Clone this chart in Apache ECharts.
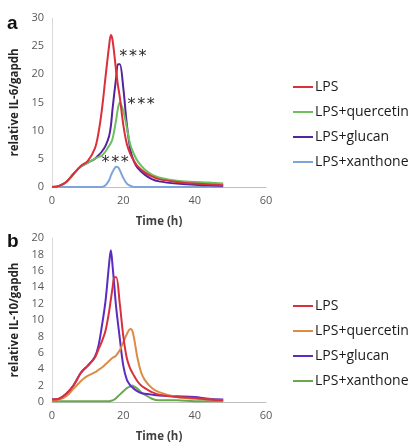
<!DOCTYPE html>
<html><head><meta charset="utf-8">
<script src="https://cdn.jsdelivr.net/npm/echarts@6/dist/echarts.min.js"></script>
<style>html,body{margin:0;padding:0;background:#fff}#c{width:414px;height:444px}</style>
</head><body><div id="c"></div>
<script>
// ---- Data ----
const seriesNames = ['LPS', 'LPS+quercetin', 'LPS+glucan', 'LPS+xanthone'];
const xTicks = [0, 20, 40, 60];

// Panel a: IL-6
const timeA = [0,2,4,6,8,10,12,13,14,15,16,16.5,17,18,18.5,19,20,21,22,23,24,26,28,30,35,40,44,48];
const il6_LPS       = [0,0.2,0.9,2.3,3.7,4.6,6.8,9.5,13.8,19.5,25,27,26,20.5,18,16,11,7.6,5.8,4.6,3.7,2.6,1.9,1.4,0.9,0.6,0.5,0.3];
const il6_quercetin = [0,0.2,0.9,2.3,3.6,4.3,5,5.3,5.6,6.3,7.3,7.8,8.6,12,14,15,13.5,10.5,7.4,5.8,4.6,3.1,2.2,1.7,1.1,0.9,0.8,0.6];
const il6_glucan    = [0,0.2,0.9,2.3,3.6,4.3,5,5.6,6.3,7.3,9,10.8,14,19.5,21.8,21.8,17.5,11,6.5,4.5,3.4,2.2,1.4,1,0.6,0.4,0.3,0.2];
const il6_xanthone  = [0,0,0,0,0,0,0,0,0,0.3,1.2,2,2.7,3.6,3.5,3,1.6,0.6,0.2,0,0,0,0,0,0,0,0,0];
const il6_stars = [[22.7, 23.8], [25, 15.3], [17.7, 5]];

// Panel b: IL-10
const timeB = [0,2,4,6,8,9,10,12,13,14,15,16,16.5,17,17.5,18,19,20,21,22,22.5,23,24,25,26,28,30,35,40,44,48];
const il10_LPS       = [0.3,0.4,1,2,3.5,4,4.4,5.4,6.4,7.4,8.7,11,12.5,14,15.2,15.2,12,8,5.3,4,3.6,3.2,2.5,2,1.7,1.2,0.9,0.6,0.5,0.3,0.2];
const il10_quercetin = [0.2,0.3,0.7,1.6,2.5,2.9,3.2,3.6,3.9,4.2,4.6,5,5.2,5.4,5.5,5.7,6.3,7.3,8.3,8.9,8.7,7.8,5.3,3.6,2.7,1.7,1.2,0.6,0.4,0.3,0.2];
const il10_glucan    = [0.3,0.4,1,2,3.5,4,4.4,5.5,6.8,9.3,12.3,16.8,18.5,16.5,14,11.5,7.8,4.4,2.7,2,1.8,1.6,1.3,1.1,1,0.9,0.8,0.7,0.6,0.4,0.3];
const il10_xanthone  = [0.1,0.1,0.1,0.1,0.1,0.1,0.1,0.1,0.1,0.1,0.1,0.1,0.15,0.2,0.3,0.5,0.9,1.3,1.7,1.9,2,1.9,1.6,1.2,0.9,0.4,0.2,0.2,0.1,0.1,0.1];

// ---- Styles ----
const colorsA = ['#dc2f3a', '#6cc05e', '#55249c', '#7ea5da'];
const colorsB = ['#d8303c', '#dc8d45', '#5a2cc0', '#6aa84f'];
const valsA = [il6_LPS, il6_quercetin, il6_glucan, il6_xanthone];
const valsB = [il10_LPS, il10_quercetin, il10_glucan, il10_xanthone];
const pair = (t, v) => t.map((x, i) => [x, v[i]]);

const FONT = 'Open Sans';
const axisLabel = {color: '#595959', fontSize: 11, fontFamily: FONT, margin: 8};
function xAxis(gi) {
  return {type: 'value', gridIndex: gi, min: 0, max: 60, interval: 20,
    name: 'Time (h)', nameLocation: 'middle', nameGap: 29,
    nameTextStyle: {color: '#404040', fontSize: 11.5, fontWeight: 'bold', fontFamily: FONT},
    axisLine: {lineStyle: {color: '#bfbfbf', width: 1}}, axisTick: {show: false},
    splitLine: {show: false}, axisLabel: Object.assign({}, axisLabel,
      {formatter: v => xTicks.includes(v) ? String(v) : ''})};
}
function yAxis(gi, max, interval, name) {
  return {type: 'value', gridIndex: gi, min: 0, max: max, interval: interval,
    name: name, nameLocation: 'middle', nameGap: 28,
    nameTextStyle: {color: '#262626', fontSize: 11.5, fontWeight: 'bold', fontFamily: FONT},
    axisLine: {show: true, lineStyle: {color: '#d9d9d9', width: 1}}, axisTick: {show: false},
    splitLine: {show: false}, axisLabel: axisLabel};
}

const series = [];
seriesNames.forEach((n, i) => {
  const s = {name: n, type: 'line', xAxisIndex: 0, yAxisIndex: 0, data: pair(timeA, valsA[i]),
    smooth: 0.35, showSymbol: false, symbol: 'none', z: 10 - i,
    lineStyle: {color: colorsA[i], width: 2}, itemStyle: {color: colorsA[i]}};
  if (i === 0) {
    s.markPoint = {symbol: 'circle', symbolSize: 0, silent: true,
      data: il6_stars.map(c => ({coord: c})),
      label: {show: true, formatter: '*\u200a*\u200a*', color: '#2a2a2a', fontSize: 16, fontWeight: 'normal',
        fontFamily: 'DejaVu Sans', position: 'inside', offset: [0, 4]}};
  }
  series.push(s);
});
seriesNames.forEach((n, i) => {
  series.push({name: n, type: 'line', xAxisIndex: 1, yAxisIndex: 1, data: pair(timeB, valsB[i]),
    smooth: 0.35, showSymbol: false, symbol: 'none', z: 10 - i,
    lineStyle: {color: colorsB[i], width: 2}, itemStyle: {color: colorsB[i]}});
});

const legendBase = {orient: 'vertical', left: 288, icon: 'rect', itemWidth: 20, itemHeight: 2,
  itemGap: 11, selectedMode: false,
  textStyle: {color: '#1a1a1a', fontSize: 14, fontFamily: FONT, padding: [0, 0, 0, -3]}};

const option = {
  backgroundColor: '#fff',
  animation: false,
  grid: [
    {left: 52, top: 18, width: 214, height: 169},
    {left: 52, top: 238, width: 214, height: 170}
  ],
  xAxis: [xAxis(0), xAxis(1)],
  yAxis: [yAxis(0, 30, 5, 'relative IL-6/gapdh'), yAxis(1, 20, 2, 'relative IL-10/gapdh')],
  legend: [
    Object.assign({}, legendBase, {top: 75,
      data: seriesNames.map((n, i) => ({name: n, itemStyle: {color: colorsA[i]}}))}),
    Object.assign({}, legendBase, {top: 294,
      data: seriesNames.map((n, i) => ({name: n, itemStyle: {color: colorsB[i]}}))})
  ],
  graphic: [
    {type: 'text', left: 7, top: 14, style: {text: 'a', font: 'bold 19px "Liberation Sans"', fill: '#111'}},
    {type: 'text', left: 7, top: 232, style: {text: 'b', font: 'bold 19px "Liberation Sans"', fill: '#111'}}
  ],
  series: series
};
echarts.init(document.getElementById('c'), null, {renderer: 'canvas'}).setOption(option);
</script></body></html>
